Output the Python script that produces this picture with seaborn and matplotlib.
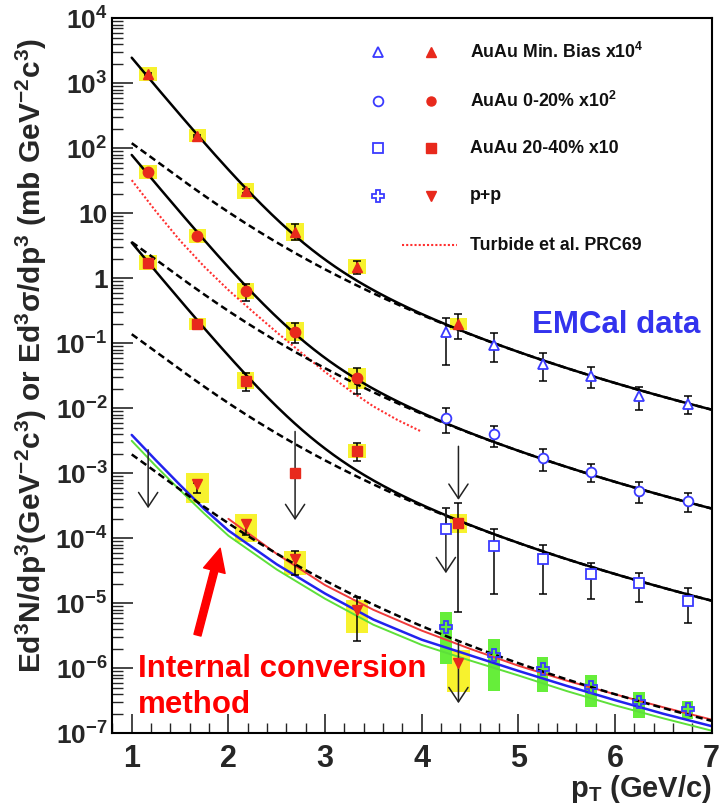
import numpy as np
import matplotlib
matplotlib.use("Agg")
import matplotlib.pyplot as plt
from matplotlib.patches import Rectangle, FancyArrowPatch
from matplotlib.ticker import FixedLocator, FixedFormatter, LogLocator, NullFormatter, MultipleLocator
import seaborn as sns

# ---------------- data ----------------
# pT bin centres (GeV/c)
pt_ic = [1.17, 1.68, 2.18, 2.69, 3.33, 4.38]      # internal conversion method
pt_em = [4.25, 4.75, 5.25, 5.75, 6.25, 6.75]      # EMCal measurement

# AuAu min. bias (x10^4), internal conversion
mb_ic = [1380, 156, 22, 5.1, 1.5, 0.196]
mb_ic_lo = [1340, 151, 20.6, 3.85, 1.16, 0.115]
mb_ic_hi = [1420, 161, 23.5, 6.8, 1.86, 0.28]
mb_ic_sys = [0.108, 0.102, 0.123, 0.141, 0.115, 0.09]      # box half height (dex)

# AuAu 0-20% (x10^2), internal conversion (first five bins)
c0_ic = [43, 4.5, 0.64, 0.151, 0.029]
c0_ic_lo = [41.5, 4.3, 0.44, 0.10, 0.0166]
c0_ic_hi = [44.5, 4.7, 0.83, 0.204, 0.041]
c0_ic_sys = [0.11, 0.108, 0.123, 0.146, 0.159]

# AuAu 20-40% (x10), internal conversion (bins 1,2,3,5,6)
pt_c2_ic = [1.17, 1.68, 2.18, 3.33, 4.38]
c2_ic = [1.74, 0.198, 0.0266, 2.2e-3, 1.7e-4]
c2_ic_lo = [1.69, 0.192, 0.0187, 1.56e-3, 7.4e-6]
c2_ic_hi = [1.79, 0.204, 0.0355, 2.95e-3, 3.47e-4]
c2_ic_sys = [0.115, 0.095, 0.133, 0.102, 0.15]
c2_ic_pt_limit = 2.69
c2_ic_limit_val = 1.0e-3

# p+p, internal conversion
pt_pp_ic = [1.68, 2.18, 2.69, 3.33, 4.38]
pp_ic = [6.8e-4, 1.66e-4, 4.75e-5, 7.9e-6, 1.22e-6]
pp_ic_lo = [5.0e-4, 1.12e-4, 2.72e-5, 2.66e-6]
pp_ic_hi = [7.2e-4, 1.9e-4, 6.45e-5, 1.26e-5]
pp_ic_sys_up = [0.165, 0.154, 0.132, 0.154, 0.195]
pp_ic_sys_dn = [0.297, 0.272, 0.242, 0.35, 0.446]

# EMCal: AuAu min. bias, 0-20%, 20-40%, p+p
mb_em = [0.151, 0.094, 0.048, 0.0314, 0.0155, 0.0115]
mb_em_lo = [0.0462, 0.0521, 0.0263, 0.0204, 0.00933, 0.00813]
mb_em_hi = [0.2427, 0.1426, 0.0702, 0.0437, 0.0209, 0.0155]
c0_em = [0.0070, 0.0040, 0.0017, 0.00106, 0.00054, 0.00038]
c0_em_lo = [0.00412, 0.00257, 0.0011, 0.000724, 0.000347, 0.000257]
c0_em_hi = [0.0100, 0.00537, 0.00234, 0.00139, 0.000724, 0.0005]
c2_em = [1.37e-4, 7.6e-5, 4.75e-5, 2.8e-5, 2.07e-5, 1.1e-5]
c2_em_lo = [1.37e-4, 1.39e-5, 1.39e-5, 1.17e-5, 1.06e-5, 4.9e-6]
c2_em_hi = [2.88e-4, 1.37e-4, 7.9e-5, 4.2e-5, 2.95e-5, 1.7e-5]
pp_em = [4.27e-6, 1.6e-6, 9.8e-7, 5.1e-7, 3.06e-7, 2.34e-7]
pp_em_sys_up = [0.24, 0.25, 0.18, 0.19, 0.145, 0.128]
pp_em_sys_dn = [0.565, 0.55, 0.36, 0.30, 0.255, 0.154]

# upper limits: (pT, start of arrow, arrow tip)
limit_pt = [1.17, 2.69, 4.38, 4.25, 4.38]
limit_top = [2.3e-3, 4.4e-3, 2.6e-3, 2.88e-4, 2.57e-6]
limit_tip = [2.9e-4, 1.9e-4, 3.9e-4, 2.9e-5, 2.9e-7]

# p+p fit  A (1 + pT^2/b)^-n  and thermal component  A_th exp(-pT/T)
pp_A, pp_b, pp_n = 9.14e-3, 1.6, 3.18
taa = [6.14, 18.5, 7.07]            # mb^-1: MB, 0-20%, 20-40%
scale = [1e4, 1e2, 1e1]
th_A = [1.52e5, 4860, 219]          # already scaled
th_T = 0.24

# theory curves for p+p (log10 values)
th_pt = [1.0, 1.25, 1.5, 1.75, 2.0, 2.5, 3.0, 3.5, 4.0, 4.5, 5.0, 5.5, 6.0, 6.5, 7.0]
blue_log = [-2.41, -2.80, -3.18, -3.55, -3.88, -4.40, -4.85, -5.25, -5.56, -5.80, -6.04, -6.27, -6.49, -6.70, -6.89]
green_log = [-2.50, -2.89, -3.26, -3.62, -3.96, -4.48, -4.93, -5.33, -5.64, -5.88, -6.11, -6.35, -6.57, -6.77, -6.96]
red_pt = [2.0, 2.5, 3.0, 3.5, 4.0, 4.5, 5.0, 5.5, 6.0, 6.5, 7.0]
red_log = [-3.70, -4.24, -4.72, -5.10, -5.42, -5.70, -5.96, -6.19, -6.40, -6.60, -6.79]

# Turbide et al. (0-20%, x10^2)
tur_pt = [1.0, 1.25, 1.5, 1.75, 2.0, 2.25, 2.5, 2.75, 3.0, 3.25, 3.5, 3.75, 4.0]
tur_log = [1.51, 1.03, 0.58, 0.18, -0.18, -0.51, -0.83, -1.14, -1.44, -1.72, -1.97, -2.18, -2.36]

y_tick_vals = [1e-7, 1e-6, 1e-5, 1e-4, 1e-3, 1e-2, 1e-1, 1, 10, 1e2, 1e3, 1e4]
y_tick_labels = [r"$\mathbf{10^{-7}}$", r"$\mathbf{10^{-6}}$", r"$\mathbf{10^{-5}}$",
                 r"$\mathbf{10^{-4}}$", r"$\mathbf{10^{-3}}$", r"$\mathbf{10^{-2}}$",
                 r"$\mathbf{10^{-1}}$", "1", "10", r"$\mathbf{10^{2}}$",
                 r"$\mathbf{10^{3}}$", r"$\mathbf{10^{4}}$"]
x_tick_vals = [1, 2, 3, 4, 5, 6, 7]
x_tick_labels = ["1", "2", "3", "4", "5", "6", "7"]

leg_labels = [r"AuAu Min. Bias x10$^{\mathbf{4}}$", r"AuAu 0-20% x10$^{\mathbf{2}}$",
              "AuAu 20-40% x10", "p+p", "Turbide et al. PRC69"]

# ---------------- style ----------------
sns.set_theme(style="ticks")
plt.rcParams.update({
    "font.family": ["Liberation Sans", "DejaVu Sans"],
    "mathtext.fontset": "custom",
    "mathtext.rm": "Liberation Sans",
    "mathtext.it": "Liberation Sans:italic",
    "mathtext.bf": "Liberation Sans:bold",
    "mathtext.sf": "Liberation Sans",
    "axes.linewidth": 1.5,
})

RED = "#e8291c"
BLUE = "#3a3aff"
YELLOW = "#f7f22e"
GREEN = "#66ee3a"

fig = plt.figure(figsize=(7.24, 8.06), dpi=100)
ax = fig.add_axes([0.1543, 0.0902, 0.8287, 0.8871])
ax.set_yscale("log")
ax.set_xlim(0.793, 7.0)
ax.set_ylim(1e-7, 1e4)


def boxes(xs, ys, up, dn, width, color):
    for x, y, u, d in zip(xs, ys, up, dn):
        lo, hi = y * 10 ** (-d), y * 10 ** u
        ax.add_patch(Rectangle((x - width / 2, lo), width, hi - lo,
                               facecolor=color, edgecolor="none", zorder=1))


def errbars(xs, ys, lo, hi):
    ys = np.asarray(ys, float)
    ax.errorbar(xs, ys, yerr=[ys - np.asarray(lo), np.asarray(hi) - ys], fmt="none",
                ecolor="black", elinewidth=1.1, capsize=3, capthick=1.1, zorder=4)


# systematic boxes
boxes(pt_ic, mb_ic, mb_ic_sys, mb_ic_sys, 0.18, YELLOW)
boxes(pt_ic[:5], c0_ic, c0_ic_sys, c0_ic_sys, 0.18, YELLOW)
boxes(pt_c2_ic, c2_ic, c2_ic_sys, c2_ic_sys, 0.18, YELLOW)
boxes(pt_pp_ic, pp_ic, pp_ic_sys_up, pp_ic_sys_dn, 0.23, YELLOW)
boxes(pt_em, pp_em, pp_em_sys_up, pp_em_sys_dn, 0.12, GREEN)

# theory curves
sns.lineplot(x=th_pt, y=10 ** np.array(green_log), ax=ax, color="#5ee03a", lw=1.4,
             estimator=None, sort=False, zorder=2)
sns.lineplot(x=th_pt, y=10 ** np.array(blue_log), ax=ax, color="#2222ee", lw=1.8,
             estimator=None, sort=False, zorder=2)
sns.lineplot(x=red_pt, y=10 ** np.array(red_log), ax=ax, color="#f03a3a", lw=1.4,
             estimator=None, sort=False, zorder=2)
sns.lineplot(x=tur_pt, y=10 ** np.array(tur_log), ax=ax, color="#ff3030", lw=1.5,
             linestyle=(0, (1, 1)), estimator=None, sort=False, zorder=2)

# fits
pt_fit = np.linspace(1.0, 7.0, 300)
pp_curve = pp_A * (1 + pt_fit ** 2 / pp_b) ** (-pp_n)
sns.lineplot(x=pt_fit, y=pp_curve, ax=ax, color="black", lw=1.8,
             linestyle=(0, (2.8, 1.6)), estimator=None, sort=False, zorder=3)
for t, s, a in zip(taa, scale, th_A):
    hard = t * s * pp_curve
    sns.lineplot(x=pt_fit, y=hard, ax=ax, color="black", lw=1.8,
                 linestyle=(0, (2.8, 1.6)), estimator=None, sort=False, zorder=3)
    sns.lineplot(x=pt_fit, y=hard + a * np.exp(-pt_fit / th_T), ax=ax, color="black",
                 lw=1.8, estimator=None, sort=False, zorder=3)

# error bars
errbars(pt_ic, mb_ic, mb_ic_lo, mb_ic_hi)
errbars(pt_ic[:5], c0_ic, c0_ic_lo, c0_ic_hi)
errbars(pt_c2_ic, c2_ic, c2_ic_lo, c2_ic_hi)
errbars(pt_pp_ic[:4], pp_ic[:4], pp_ic_lo, pp_ic_hi)
errbars(pt_em, mb_em, mb_em_lo, mb_em_hi)
errbars(pt_em, c0_em, c0_em_lo, c0_em_hi)
errbars(pt_em, c2_em, c2_em_lo, c2_em_hi)

# upper limits
for x, top, tip in zip(limit_pt, limit_top, limit_tip):
    ax.annotate("", xy=(x, tip), xytext=(x, top),
                arrowprops=dict(arrowstyle="->,head_length=1.04,head_width=0.69",
                                lw=1.1, color="#222222", shrinkA=0, shrinkB=0,
                                mutation_scale=10), zorder=4)

# markers
mk = dict(linestyle="none", zorder=5)
ax.plot(pt_ic, mb_ic, marker="^", ms=7.5, color=RED, mec=RED, **mk)
ax.plot(pt_ic[:5], c0_ic, marker="o", ms=7.5, color=RED, mec=RED, **mk)
ax.plot(pt_c2_ic + [c2_ic_pt_limit], c2_ic + [c2_ic_limit_val], marker="s", ms=7.5,
        color=RED, mec=RED, **mk)
ax.plot(pt_pp_ic, pp_ic, marker="v", ms=7.5, color=RED, mec=RED, **mk)
ax.plot(pt_em, mb_em, marker="^", ms=7, mfc="white", mec=BLUE, mew=1.3, **mk)
ax.plot(pt_em, c0_em, marker="o", ms=7, mfc="white", mec=BLUE, mew=1.3, **mk)
ax.plot(pt_em, c2_em, marker="s", ms=6.5, mfc="white", mec=BLUE, mew=1.3, **mk)
ax.plot(pt_em, pp_em, marker="P", ms=8.5, mfc="none", mec=BLUE, mew=1.3, **mk)

# axes cosmetics
ax.yaxis.set_major_locator(FixedLocator(y_tick_vals))
ax.yaxis.set_major_formatter(FixedFormatter(y_tick_labels))
ax.yaxis.set_minor_locator(LogLocator(base=10, subs=np.arange(2, 10), numticks=30))
ax.yaxis.set_minor_formatter(NullFormatter())
ax.xaxis.set_major_locator(FixedLocator(x_tick_vals))
ax.xaxis.set_major_formatter(FixedFormatter(x_tick_labels))
ax.xaxis.set_minor_locator(MultipleLocator(0.2))
ax.tick_params(axis="y", which="major", direction="in", length=15, width=1.2,
               labelsize=19, pad=3, left=True, right=False)
ax.tick_params(axis="y", which="minor", direction="in", length=8, width=1.0,
               left=True, right=False)
ax.tick_params(axis="x", which="major", direction="in", length=13.5, width=1.2,
               labelsize=22, pad=8, bottom=True, top=False)
ax.tick_params(axis="x", which="minor", direction="in", length=7, width=1.0,
               bottom=True, top=False)
for lab in ax.get_xticklabels() + ax.get_yticklabels():
    lab.set_fontweight("bold")
for sp in ax.spines.values():
    sp.set_color("black")
    sp.set_linewidth(1.5)
ax.set_xlabel("")
ax.set_ylabel("")

# legend
rows_y = [0.9525, 0.8843, 0.8182, 0.7519]
open_mk = ["^", "o", "s", "P"]
fill_mk = ["^", "o", "s", "v"]
for yy, om, fm, lab in zip(rows_y, open_mk, fill_mk, leg_labels[:4]):
    ax.plot([0.4438], [yy], marker=om, ms=7 if om != "P" else 8.5, mfc="white" if om != "P" else "none",
            mec=BLUE, mew=1.3, linestyle="none", transform=ax.transAxes, zorder=6)
    ax.plot([0.5317], [yy], marker=fm, ms=6.5, color=RED, mec=RED, linestyle="none",
            transform=ax.transAxes, zorder=6)
    ax.text(0.5972, yy, lab, transform=ax.transAxes, fontsize=12.8, fontweight="bold",
            va="center", ha="left", color="#111111")
ax.plot([0.4833, 0.575], [0.6825, 0.6825], color="#ff3030", lw=1.5, linestyle=(0, (1, 1)),
        transform=ax.transAxes)
ax.text(0.5972, 0.6825, leg_labels[4], transform=ax.transAxes, fontsize=12.8,
        fontweight="bold", va="center", ha="left", color="#111111")

# annotations
ax.text(0.70, 0.5603, "EMCal data", transform=ax.transAxes, fontsize=22.5,
        fontweight="bold", color="#3333ee", ha="left", va="baseline")
ax.text(0.0443, 0.0792, "Internal conversion", transform=ax.transAxes, fontsize=22.5,
        fontweight="bold", color="#ff0000", ha="left", va="baseline", zorder=6)
ax.text(0.0443, 0.028, "method", transform=ax.transAxes, fontsize=22.5,
        fontweight="bold", color="#ff0000", ha="left", va="baseline", zorder=6)
ax.add_patch(FancyArrowPatch((1.68, 10 ** -5.49), (1.915, 10 ** -4.154),
                             arrowstyle="simple,head_length=0.83,head_width=0.8,tail_width=0.26",
                             mutation_scale=20, color="#ff0000", shrinkA=0, shrinkB=0, zorder=6))

fig.text(31 / 724, 1 - 356 / 806,
         r"$\mathbf{Ed^{3}N/dp^{3}(GeV^{-2}c^{3})\ or\ Ed^{3}\sigma/dp^{3}\ (mb\ GeV^{-2}c^{3})}$",
         rotation=90, ha="center", va="center", fontsize=21.5)
fig.text(712 / 724, 9 / 806, r"$\mathbf{p_{T}}$ (GeV/c)", ha="right", va="baseline",
         fontsize=21, fontweight="bold")

fig.savefig("out.png", dpi=100, facecolor="white")
